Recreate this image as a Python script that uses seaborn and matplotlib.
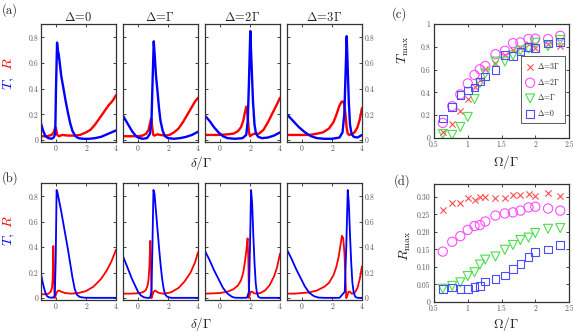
import matplotlib
matplotlib.use('Agg')
import matplotlib.pyplot as plt
import seaborn as sns

# ---- data ----
panel_titles = [r'$\Delta\!=\!0$', r'$\Delta\!=\!\Gamma$', r'$\Delta\!=\!2\Gamma$', r'$\Delta\!=\!3\Gamma$']

# (a) measured T and R vs delta/Gamma
a0_T_x = [-1, -0.85, -0.7, -0.5, -0.3, -0.15, -0.05, 0.0, 0.07, 0.12, 0.18, 0.25, 0.35, 0.5, 0.65, 0.8, 0.95, 1.1, 1.3, 1.5, 1.8, 2.2, 2.6, 3.0, 3.3, 3.6, 4.0]
a0_T_y = [0.13, 0.07, 0.03, 0.015, 0.01, 0.02, 0.05, 0.4, 0.76, 0.7, 0.67, 0.6, 0.5, 0.4, 0.3, 0.21, 0.13, 0.07, 0.03, 0.015, 0.01, 0.01, 0.015, 0.025, 0.04, 0.055, 0.075]
a0_R_x = [-1, -0.6, -0.3, -0.15, -0.05, 0.0, 0.08, 0.2, 0.4, 0.8, 1.2, 1.6, 2.0, 2.3, 2.6, 2.9, 3.2, 3.5, 3.8, 4.0]
a0_R_y = [0.03, 0.03, 0.04, 0.06, 0.1, 0.09, 0.04, 0.03, 0.04, 0.035, 0.035, 0.04, 0.06, 0.08, 0.12, 0.17, 0.22, 0.27, 0.31, 0.35]

a1_T_x = [-1, -0.8, -0.6, -0.4, -0.2, 0, 0.3, 0.6, 0.8, 0.9, 0.97, 1.05, 1.12, 1.2, 1.3, 1.4, 1.5, 1.65, 1.8, 2.0, 2.4, 2.8, 3.2, 3.6, 4.0]
a1_T_y = [0.19, 0.15, 0.11, 0.07, 0.04, 0.02, 0.01, 0.015, 0.05, 0.15, 0.45, 0.77, 0.65, 0.5, 0.38, 0.25, 0.15, 0.07, 0.03, 0.015, 0.01, 0.015, 0.025, 0.04, 0.065]
a1_R_x = [-1, -0.5, 0, 0.3, 0.55, 0.7, 0.8, 0.88, 0.95, 1.02, 1.1, 1.3, 1.5, 1.8, 2.1, 2.4, 2.7, 3.0, 3.3, 3.6, 3.8, 4.0]
a1_R_y = [0.03, 0.03, 0.03, 0.035, 0.05, 0.08, 0.13, 0.17, 0.1, 0.04, 0.035, 0.045, 0.04, 0.035, 0.04, 0.06, 0.09, 0.14, 0.2, 0.26, 0.3, 0.33]

a2_T_x = [-1, -0.7, -0.4, -0.1, 0.2, 0.5, 1.0, 1.5, 1.75, 1.85, 1.93, 2.02, 2.1, 2.2, 2.3, 2.4, 2.55, 2.8, 3.2, 3.6, 4.0]
a2_T_y = [0.19, 0.15, 0.1, 0.06, 0.03, 0.015, 0.01, 0.015, 0.04, 0.15, 0.45, 0.85, 0.6, 0.3, 0.12, 0.05, 0.025, 0.015, 0.02, 0.035, 0.06]
a2_R_x = [-1, -0.5, 0, 0.5, 0.9, 1.2, 1.4, 1.55, 1.65, 1.75, 1.8, 1.87, 1.93, 2.0, 2.1, 2.3, 2.6, 2.9, 3.2, 3.5, 3.8, 4.0]
a2_R_y = [0.04, 0.04, 0.04, 0.045, 0.05, 0.07, 0.1, 0.15, 0.21, 0.26, 0.25, 0.15, 0.06, 0.03, 0.04, 0.05, 0.05, 0.08, 0.14, 0.21, 0.28, 0.33]

a3_T_x = [-1, -0.6, -0.2, 0.2, 0.6, 1.0, 1.5, 2.0, 2.5, 2.7, 2.82, 2.9, 2.98, 3.05, 3.12, 3.2, 3.3, 3.45, 3.7, 4.0]
a3_T_y = [0.2, 0.15, 0.1, 0.06, 0.03, 0.015, 0.01, 0.01, 0.02, 0.06, 0.2, 0.5, 0.81, 0.55, 0.3, 0.12, 0.05, 0.025, 0.02, 0.04]
a3_R_x = [-1, -0.5, 0, 0.5, 1.0, 1.4, 1.8, 2.1, 2.3, 2.5, 2.65, 2.75, 2.82, 2.9, 2.97, 3.05, 3.15, 3.3, 3.5, 3.7, 3.85, 4.0]
a3_R_y = [0.04, 0.04, 0.04, 0.04, 0.05, 0.06, 0.09, 0.14, 0.2, 0.27, 0.3, 0.3, 0.28, 0.2, 0.1, 0.05, 0.04, 0.045, 0.06, 0.1, 0.16, 0.25]

# (b) theory T and R vs delta/Gamma
b0_T_x = [-1, -0.9, -0.8, -0.7, -0.6, -0.45, -0.2, -0.08, -0.02, 0.04, 0.1, 0.2, 0.35, 0.5, 0.65, 0.8, 0.95, 1.1, 1.25, 1.4, 1.6, 1.9, 2.5, 4.0]
b0_T_y = [0.19, 0.13, 0.08, 0.04, 0.015, 0.005, 0.003, 0.02, 0.3, 0.85, 0.83, 0.77, 0.68, 0.58, 0.48, 0.38, 0.27, 0.16, 0.07, 0.025, 0.008, 0.003, 0.002, 0.002]
b0_R_x = [-1, -0.7, -0.5, -0.35, -0.27, -0.22, -0.18, -0.15, -0.11, -0.07, 0.0, 0.1, 0.2, 0.35, 0.6, 1.0, 1.5, 2.0, 2.5, 3.0, 3.4, 3.7, 4.0]
b0_R_y = [0.03, 0.03, 0.035, 0.05, 0.08, 0.15, 0.41, 0.3, 0.05, 0.0, 0.03, 0.055, 0.06, 0.05, 0.04, 0.035, 0.04, 0.055, 0.09, 0.15, 0.22, 0.29, 0.38]

b1_T_x = [-1, -0.8, -0.6, -0.4, -0.2, 0, 0.2, 0.4, 0.6, 0.8, 0.9, 0.96, 1.03, 1.1, 1.2, 1.3, 1.4, 1.5, 1.6, 1.7, 1.8, 1.95, 2.2, 4.0]
b1_T_y = [0.33, 0.27, 0.21, 0.15, 0.1, 0.05, 0.02, 0.006, 0.002, 0.002, 0.05, 0.4, 0.85, 0.82, 0.68, 0.54, 0.4, 0.27, 0.16, 0.08, 0.03, 0.01, 0.002, 0.002]
b1_R_x = [-1, -0.5, 0, 0.3, 0.5, 0.62, 0.7, 0.76, 0.82, 0.86, 0.9, 0.95, 1.05, 1.15, 1.25, 1.4, 1.7, 2.2, 2.7, 3.1, 3.5, 3.8, 4.0]
b1_R_y = [0.035, 0.035, 0.038, 0.045, 0.06, 0.09, 0.14, 0.25, 0.45, 0.3, 0.0, 0.02, 0.05, 0.06, 0.05, 0.04, 0.035, 0.045, 0.08, 0.13, 0.2, 0.28, 0.36]

b2_T_x = [-1, -0.7, -0.4, -0.1, 0.2, 0.5, 0.8, 1.0, 1.4, 1.8, 1.93, 2.0, 2.07, 2.14, 2.22, 2.3, 2.38, 2.45, 2.55, 2.7, 4.0]
b2_T_y = [0.37, 0.3, 0.22, 0.15, 0.08, 0.035, 0.01, 0.003, 0.002, 0.003, 0.05, 0.4, 0.85, 0.75, 0.5, 0.28, 0.12, 0.05, 0.01, 0.002, 0.002]
b2_R_x = [-1, -0.5, 0, 0.5, 0.9, 1.2, 1.4, 1.55, 1.68, 1.76, 1.84, 1.89, 1.93, 1.97, 2.05, 2.15, 2.25, 2.4, 2.7, 3.0, 3.3, 3.6, 3.8, 4.0]
b2_R_y = [0.035, 0.037, 0.04, 0.05, 0.07, 0.1, 0.14, 0.2, 0.3, 0.38, 0.47, 0.3, 0.0, 0.02, 0.05, 0.05, 0.04, 0.035, 0.04, 0.06, 0.1, 0.17, 0.24, 0.35]

b3_T_x = [-1, -0.7, -0.4, -0.1, 0.2, 0.5, 0.8, 1.1, 1.5, 2.5, 2.85, 2.95, 3.05, 3.12, 3.2, 3.28, 3.36, 3.45, 3.55, 3.7, 4.0]
b3_T_y = [0.38, 0.31, 0.23, 0.16, 0.09, 0.04, 0.015, 0.004, 0.002, 0.002, 0.05, 0.4, 0.85, 0.75, 0.5, 0.28, 0.12, 0.04, 0.01, 0.002, 0.002]
b3_R_x = [-1, -0.5, 0, 0.5, 1.0, 1.5, 1.8, 2.1, 2.3, 2.45, 2.57, 2.66, 2.75, 2.83, 2.9, 2.95, 3.02, 3.1, 3.2, 3.3, 3.5, 3.7, 3.85, 4.0]
b3_R_y = [0.035, 0.035, 0.04, 0.045, 0.06, 0.09, 0.12, 0.18, 0.25, 0.33, 0.42, 0.49, 0.47, 0.35, 0.15, 0.0, 0.02, 0.05, 0.05, 0.035, 0.04, 0.08, 0.15, 0.25]

a_curves = [(a0_T_x, a0_T_y, a0_R_x, a0_R_y), (a1_T_x, a1_T_y, a1_R_x, a1_R_y),
            (a2_T_x, a2_T_y, a2_R_x, a2_R_y), (a3_T_x, a3_T_y, a3_R_x, a3_R_y)]
b_curves = [(b0_T_x, b0_T_y, b0_R_x, b0_R_y), (b1_T_x, b1_T_y, b1_R_x, b1_R_y),
            (b2_T_x, b2_T_y, b2_R_x, b2_R_y), (b3_T_x, b3_T_y, b3_R_x, b3_R_y)]

# (c), (d) maxima vs Omega/Gamma
omega = [0.63, 0.77, 0.89, 1.0, 1.1, 1.18, 1.26, 1.41, 1.55, 1.67, 1.78, 1.9, 2.0, 2.19, 2.37]
Tmax_3G = [0.056, 0.123, 0.237, 0.338, 0.443, 0.509, 0.607, 0.659, 0.732, 0.771, 0.791, 0.822, 0.793, 0.825, 0.803]
Tmax_2G = [0.132, 0.279, 0.383, 0.479, 0.553, 0.603, 0.632, 0.735, 0.765, 0.832, 0.838, 0.868, 0.871, 0.868, 0.897]
Tmax_1G = [0.035, 0.027, 0.097, 0.185, 0.341, 0.482, 0.565, 0.671, 0.671, 0.725, 0.767, 0.784, 0.835, 0.806, 0.86]
Tmax_0 = [0.171, 0.274, 0.379, 0.417, 0.443, 0.497, 0.541, 0.594, 0.727, 0.72, 0.759, 0.796, 0.788, 0.828, 0.844]
Rmax_3G = [0.2625, 0.283, 0.283, 0.297, 0.292, 0.299, 0.299, 0.296, 0.296, 0.307, 0.307, 0.308, 0.304, 0.311, 0.304]
Rmax_2G = [0.144, 0.172, 0.188, 0.206, 0.217, 0.22, 0.23, 0.247, 0.253, 0.256, 0.261, 0.27, 0.272, 0.267, 0.261]
Rmax_1G = [0.038, 0.046, 0.056, 0.074, 0.085, 0.107, 0.121, 0.13, 0.149, 0.163, 0.177, 0.184, 0.197, 0.209, 0.211]
Rmax_0 = [0.037, 0.041, 0.037, 0.037, 0.042, 0.045, 0.058, 0.066, 0.076, 0.095, 0.109, 0.128, 0.142, 0.15, 0.162]
legend_labels = [r'$\Delta\!=\!3\Gamma$', r'$\Delta\!=\!2\Gamma$', r'$\Delta\!=\!\Gamma$', r'$\Delta\!=\!0$']

delta_ticks = [0, 2, 4]
delta_ticklabels = ['0', '2', '4']
tr_ticks = [0, 0.2, 0.4, 0.6, 0.8]
tr_ticklabels = ['0', '0.2', '0.4', '0.6', '0.8']
omega_ticks = [0.5, 1, 1.5, 2, 2.5]
omega_ticklabels = ['0.5', '1', '1.5', '2', '2.5']
tmax_ticks = [0, 0.2, 0.4, 0.6, 0.8, 1]
tmax_ticklabels = ['0', '0.2', '0.4', '0.6', '0.8', '1']
rmax_ticks = [0, 0.05, 0.10, 0.15, 0.20, 0.25, 0.30]
rmax_ticklabels = ['0', '0.05', '0.10', '0.15', '0.20', '0.25', '0.30']

# ---- style ----
sns.set_style('ticks')
plt.rcParams['font.family'] = ['cmr10', 'DejaVu Serif']
plt.rcParams['mathtext.fontset'] = 'cm'
plt.rcParams['axes.unicode_minus'] = False

W, H = 573, 332
fig = plt.figure(figsize=(W / 100, H / 100), dpi=100)


def add_ax(left, top, w, h):
    return fig.add_axes([left / W, 1 - (top + h) / H, w / W, h / H])


def style_ax(ax):
    for sp in ax.spines.values():
        sp.set_color('#333333')
        sp.set_linewidth(0.9)
    ax.tick_params(direction='in', top=True, right=True, length=2.5, width=0.6,
                   labelsize=5.5, labelcolor='#555555', pad=2)


lefts = [41, 123, 205, 287]
for row, (curves, top, h, lw) in enumerate([(a_curves, 24, 118, 1.7), (b_curves, 183, 117, 1.3)]):
    for i, (tx, ty, rx, ry) in enumerate(curves):
        ax = add_ax(lefts[i], top, 75, h)
        sns.lineplot(x=rx, y=ry, ax=ax, color='#ff0000', lw=lw)
        sns.lineplot(x=tx, y=ty, ax=ax, color='#0000ff', lw=lw)
        ax.set_xlim(-1, 4)
        ax.set_ylim(-0.015, 0.905)
        ax.set_xticks(delta_ticks)
        ax.set_xticklabels(delta_ticklabels)
        ax.set_yticks(tr_ticks)
        ax.set_yticklabels(tr_ticklabels)
        ax.set_xlabel('')
        ax.set_ylabel('')
        style_ax(ax)
        if i == 0:
            ax.tick_params(labelleft=True, labelright=False)
        elif i == 3:
            ax.tick_params(labelleft=False, labelright=True)
        else:
            ax.tick_params(labelleft=False, labelright=False)
        if row == 0:
            ax.set_title(panel_titles[i], fontsize=9, pad=2)

marker_specs = [('x', '#ff4d4d', 20), ('o', '#ff4dff', 44), ('v', '#4ddd4d', 42), ('s', '#4d4dff', 30)]

for key, (top, h, series, ticks, ticklabels, ylim) in enumerate([
        (24, 114, [Tmax_3G, Tmax_2G, Tmax_1G, Tmax_0], tmax_ticks, tmax_ticklabels, (0, 1)),
        (184, 118, [Rmax_3G, Rmax_2G, Rmax_1G, Rmax_0], rmax_ticks, rmax_ticklabels, (0, 0.337))]):
    ax = add_ax(434, top, 135, h)
    for vals, (m, c, s), lab in zip(series, marker_specs, legend_labels):
        if m == 'x':
            sns.scatterplot(x=omega, y=vals, ax=ax, marker=m, s=s, color=c, linewidth=0.8, label=lab)
        else:
            sns.scatterplot(x=omega, y=vals, ax=ax, marker=m, s=s, facecolor='none', edgecolor=c,
                            linewidth=0.8, label=lab)
    ax.set_xlim(0.5, 2.5)
    ax.set_ylim(*ylim)
    ax.set_xticks(omega_ticks)
    ax.set_xticklabels(omega_ticklabels)
    ax.set_yticks(ticks)
    ax.set_yticklabels(ticklabels)
    ax.set_xlabel('')
    ax.set_ylabel('')
    style_ax(ax)
    ax.tick_params(axis='y', pad=2.5)
    if key == 0:
        leg = ax.legend(loc='lower right', bbox_to_anchor=(0.995, 0.1), fontsize=5.5, frameon=True,
                        fancybox=False, handletextpad=0.3, labelspacing=0.75, borderpad=0.6,
                        handlelength=1.2)
        leg.get_frame().set_edgecolor('#333333')
        leg.get_frame().set_linewidth(0.7)
    else:
        ax.get_legend().remove()

# ---- labels ----
def ftext(x, y, s, **kw):
    fig.text(x / W, 1 - y / H, s, **kw)


ftext(2, 10, '(a)', fontsize=9, va='center')
ftext(2, 178, '(b)', fontsize=9, va='center')
ftext(392, 14, '(c)', fontsize=9, va='center')
ftext(394, 181, '(d)', fontsize=9, va='center')
ftext(201, 163, r'$\delta/\Gamma$', fontsize=9.5, ha='center', va='center')
ftext(201, 324, r'$\delta/\Gamma$', fontsize=9.5, ha='center', va='center')
ftext(506, 162, r'$\Omega/\Gamma$', fontsize=9.5, ha='center', va='center')
ftext(506, 324, r'$\Omega/\Gamma$', fontsize=9.5, ha='center', va='center')
ftext(403, 50, r'$T_{\rm max}$', fontsize=10, ha='center', va='center', rotation=90)
ftext(405, 246, r'$R_{\rm max}$', fontsize=10, ha='center', va='center', rotation=90)
for yb, yr in [(90, 70), (246, 228)]:
    ftext(9, yb, r'$T$,', fontsize=10, ha='center', va='bottom', rotation=90, color='#0000ff')
    ftext(9, yr, r'$R$', fontsize=10, ha='center', va='bottom', rotation=90, color='#ff0000')

fig.savefig('out.png', dpi=100)
